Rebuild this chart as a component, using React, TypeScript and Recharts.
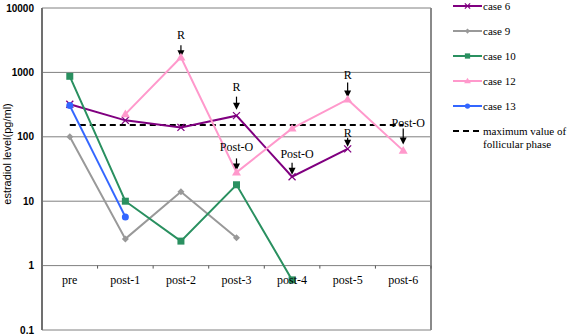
import React from 'react';
import { LineChart, Line, XAxis, YAxis, CartesianGrid, ReferenceDot, Legend } from 'recharts';

const categories = ['pre', 'post-1', 'post-2', 'post-3', 'post-4', 'post-5', 'post-6'];
const case6 = [320, 180, 140, 213, 24, 65, null];
const case9 = [100, 2.6, 14, 2.7, null, null, null];
const case10 = [870, 10, 2.4, 18, 0.6, null, null];
const case12 = [null, 225, 1720, 28, 135, 380, 61];
const case13 = [305, 5.7, null, null, null, null, null];
const follicularMax = [153, 153, 153, 153, 153, 153, 153];
const yTicks = [0.1, 1, 10, 100, 1000, 10000];

// R / Post-O notes with their arrows
const annotations = [
  { x: 'post-2', y: 1720, text: 'R' },
  { x: 'post-3', y: 213, text: 'R' },
  { x: 'post-3', y: 28, text: 'Post-O' },
  { x: 'post-4', y: 24, text: 'Post-O' },
  { x: 'post-5', y: 380, text: 'R' },
  { x: 'post-5', y: 65, text: 'R' },
  { x: 'post-6', y: 61, text: 'Post-O' },
];
// arrow start / tip and text baseline, relative to the marked point
const noteLayout = [
  { top: -12, tip: 0, text: -18, dx: 0 },
  { top: -19, tip: -6, text: -25, dx: 0 },
  { top: -14, tip: -2, text: -21, dx: 0 },
  { top: -14, tip: -2, text: -19, dx: 5 },
  { top: -17, tip: -2, text: -20, dx: 0 },
  { top: -11, tip: -2, text: -12, dx: 0 },
  { top: -22, tip: -6, text: -24, dx: 5 },
];

const data = categories.map((name, i) => ({
  name,
  case6: case6[i],
  case9: case9[i],
  case10: case10[i],
  case12: case12[i],
  case13: case13[i],
  follicular: follicularMax[i],
}));

const series = [
  { key: 'case6', label: ['case 6'], color: '#800080', marker: 'cross' },
  { key: 'case9', label: ['case 9'], color: '#999999', marker: 'diamond' },
  { key: 'case10', label: ['case 10'], color: '#2A9060', marker: 'square' },
  { key: 'case12', label: ['case 12'], color: '#FF99CC', marker: 'triangle' },
  { key: 'case13', label: ['case 13'], color: '#3366FF', marker: 'circle' },
  { key: 'follicular', label: ['maximum value of', 'follicular phase'], color: '#000000', marker: null, dash: '6 4' },
];

const SERIF = 'Liberation Serif';
const SANS = 'Liberation Sans';
const W = 567;
const H = 335;
const PLOT_TOP = 8;
const PLOT_BOTTOM = 330;
const PLOT_RIGHT = 431;
const DECADE = (PLOT_BOTTOM - PLOT_TOP) / 5;
const BAND = (PLOT_RIGHT - 42) / categories.length;

function Marker({ shape, cx, cy, color, s = 1 }: any) {
  if (shape === 'cross') {
    const d = 3.5 * s;
    return (
      <g stroke={color} strokeWidth={1.3}>
        <line x1={cx - d} y1={cy - d} x2={cx + d} y2={cy + d} />
        <line x1={cx - d} y1={cy + d} x2={cx + d} y2={cy - d} />
      </g>
    );
  }
  if (shape === 'diamond') {
    const d = 3.5 * s;
    return <polygon points={`${cx},${cy - d} ${cx + d},${cy} ${cx},${cy + d} ${cx - d},${cy}`} fill={color} />;
  }
  if (shape === 'square') {
    const d = 3.5 * s;
    return <rect x={cx - d} y={cy - d} width={2 * d} height={2 * d} fill={color} />;
  }
  if (shape === 'triangle') {
    const d = 4.5 * s;
    return <polygon points={`${cx},${cy - d} ${cx + d},${cy + d * 0.7} ${cx - d},${cy + d * 0.7}`} fill={color} />;
  }
  if (shape === 'circle') return <circle cx={cx} cy={cy} r={3.5 * s} fill={color} />;
  return null;
}

const makeDot = (shape: string, color: string) => (props: any) => {
  const { cx, cy, value, index } = props;
  if (cx == null || cy == null || value == null) return <g key={index} />;
  return (
    <g key={index}>
      <Marker shape={shape} cx={cx} cy={cy} color={color} />
    </g>
  );
};

// the category axis sits on the value-1 gridline, one decade above the plot bottom
function CategoryTick(props: any) {
  const { x, y, payload } = props;
  const baseY = y - DECADE;
  const half = BAND / 2;
  return (
    <g>
      <line x1={x + half} x2={x + half} y1={baseY} y2={baseY + 3} stroke="#555" />
      <text x={x} y={baseY + 18} textAnchor="middle" fontFamily={SERIF} fontSize={12} fill="#000">
        {payload.value}
      </text>
    </g>
  );
}

function renderLegend() {
  return (
    <svg width={119} height={150} style={{ display: 'block', overflow: 'visible' }}>
      {series.map((s, i) => {
        const cy = 6 + i * 25;
        return (
          <g key={s.key}>
            <line x1={5} x2={34} y1={cy} y2={cy} stroke={s.color} strokeWidth={2} strokeDasharray={s.dash} />
            {s.marker && <Marker shape={s.marker} cx={19.5} cy={cy} color={s.color} s={0.75} />}
            {s.label.map((t, j) => (
              <text key={t} x={35} y={cy + 4 + j * 12.6} fontFamily={SERIF} fontSize={11} fill="#000">
                {t}
              </text>
            ))}
          </g>
        );
      })}
    </svg>
  );
}

const noteShape = (i: number) => (props: any) => {
  const { cx, cy } = props;
  const l = noteLayout[i];
  return (
    <g>
      <line x1={cx} y1={cy + l.top} x2={cx} y2={cy + l.tip - 6} stroke="#000" strokeWidth={1.2} />
      <polygon points={`${cx - 3.5},${cy + l.tip - 7} ${cx + 3.5},${cy + l.tip - 7} ${cx},${cy + l.tip}`} fill="#000" />
      <text x={cx + l.dx} y={cy + l.text} textAnchor="middle" fontFamily={SERIF} fontSize={12} fill="#000">
        {annotations[i].text}
      </text>
    </g>
  );
};

export default function App() {
  return (
    <div style={{ position: 'absolute', left: 0, top: 0, width: W, height: H, background: '#fff' }}>
      <LineChart width={W} height={H} data={data} margin={{ top: PLOT_TOP, right: 16, bottom: 0, left: 2 }}>
        <CartesianGrid vertical={false} stroke="#808080" />
        <XAxis
          dataKey="name"
          interval={0}
          height={5}
          axisLine={false}
          tickLine={false}
          tickSize={0}
          tickMargin={0}
          padding={{ left: BAND / 2, right: BAND / 2 }}
          tick={<CategoryTick />}
        />
        <YAxis
          scale="log"
          type="number"
          domain={[0.1, 10000]}
          ticks={yTicks}
          interval={0}
          allowDataOverflow
          width={40}
          axisLine={{ stroke: '#707070', strokeWidth: 2 }}
          tickLine={false}
          tickFormatter={(v: number) => String(v)}
          tick={{ fontFamily: SANS, fontSize: 10, fontWeight: 'bold', fill: '#000' }}
          label={{
            content: () => (
              <text x={11} y={154} transform="rotate(-90 11 154)" textAnchor="middle" fontFamily={SANS} fontSize={11} fill="#000">
                estradiol level(pg/ml)
              </text>
            ),
          }}
        />
        {/* right-hand frame of the plot box */}
        <YAxis
          yAxisId="frame"
          orientation="right"
          scale="log"
          type="number"
          domain={[0.1, 10000]}
          allowDataOverflow
          width={1}
          tick={false}
          tickLine={false}
          axisLine={{ stroke: '#8a8a8a', strokeWidth: 2 }}
        />
        <Legend
          layout="vertical"
          align="right"
          verticalAlign="top"
          content={renderLegend}
          wrapperStyle={{ left: 448, top: 0, width: 119 }}
        />
        <Line dataKey="follicular" stroke="#000" strokeWidth={2} strokeDasharray="6 4" dot={false} isAnimationActive={false} />
        {series
          .filter((s) => s.marker)
          .map((s) => (
            <Line
              key={s.key}
              dataKey={s.key}
              stroke={s.color}
              strokeWidth={2}
              dot={makeDot(s.marker as string, s.color)}
              activeDot={false}
              isAnimationActive={false}
            />
          ))}
        {annotations.map((a, i) => (
          <ReferenceDot key={i} x={a.x} y={a.y} r={0} shape={noteShape(i)} ifOverflow="visible" />
        ))}
      </LineChart>
    </div>
  );
}
